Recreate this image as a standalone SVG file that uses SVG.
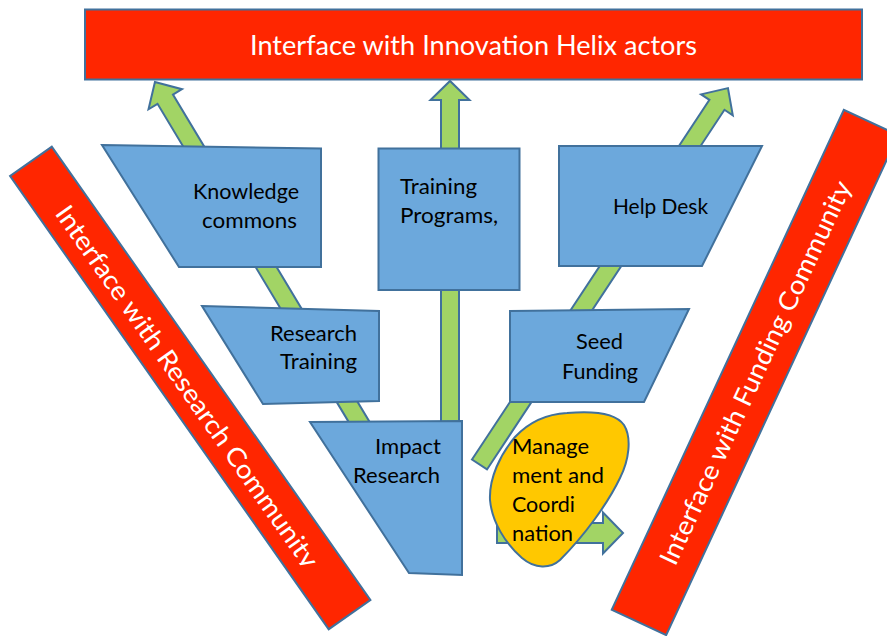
<svg xmlns="http://www.w3.org/2000/svg" width="887" height="636" viewBox="0 0 887 636">
<style>
.banner{fill:#FF2600;stroke:#41719C;stroke-width:2}
.box{fill:#6CA8DC;stroke:#41719C;stroke-width:2}
.arrow{fill:#A2D465;stroke:#41719C;stroke-width:2;stroke-linejoin:miter}
.blob{fill:#FFC800;stroke:#41719C;stroke-width:2}
.bt{font-family:Lato,"Open Sans","Liberation Sans",sans-serif;font-size:26px;fill:#FFFFFF}
.lb{font-family:Lato,"Open Sans","Liberation Sans",sans-serif;font-size:21px;fill:#000000}
</style>
<defs>
<clipPath id="clipLeft" clipPathUnits="userSpaceOnUse"><rect x="-300" y="-40" width="600" height="52"/></clipPath>
</defs>
<g id="connectors">
<polygon class="arrow" transform="translate(364,430) rotate(-121.0)" points="0,-9 385.9,-9 385.9,-19.5 405.9,0 385.9,19.5 385.9,9 0,9"/>
<polygon class="arrow" transform="translate(450,430) rotate(-90)" points="0,-9 330,-9 330,-19.5 349,0 330,19.5 330,9 0,9"/>
<polygon class="arrow" transform="translate(479.5,464.5) rotate(-56.57)" points="0,-9 431,-9 431,-19 451,0 431,19 431,9 0,9"/>
<polygon class="arrow" transform="translate(497,533)" points="0,-10 106,-10 106,-20.5 126,0 106,20.5 106,10 0,10"/>
</g>
<g id="innovation-helix">
<rect class="banner" x="85" y="9.5" width="777" height="70"/>
<text class="bt" x="473.5" y="55" text-anchor="middle" textLength="447" lengthAdjust="spacingAndGlyphs">Interface with Innovation Helix actors</text>
</g>
<g id="research-community" transform="translate(190.25,388) rotate(54.89)">
<rect class="banner" x="-277" y="-25.5" width="554" height="51"/>
<text class="bt" x="-3" y="11" text-anchor="middle" textLength="436" lengthAdjust="spacingAndGlyphs" clip-path="url(#clipLeft)">Interface with Research Community</text>
</g>
<g id="funding-community" transform="translate(755,372.5) rotate(-65.1)">
<rect class="banner" x="-275.6" y="-30" width="551.2" height="60"/>
<text class="bt" x="0" y="9.5" text-anchor="middle" textLength="420" lengthAdjust="spacingAndGlyphs">Interface with Funding Community</text>
</g>
<g id="knowledge-commons">
<polygon class="box" points="102,145 321,148.5 321,267 179,267"/>
<text class="lb" x="246" y="199" text-anchor="middle" textLength="106" lengthAdjust="spacingAndGlyphs">Knowledge</text>
<text class="lb" x="249.5" y="228" text-anchor="middle" textLength="95" lengthAdjust="spacingAndGlyphs">commons</text>
</g>
<g id="training-programs">
<rect class="box" x="378.5" y="148.5" width="141" height="141.5"/>
<text class="lb" x="400" y="194" textLength="77" lengthAdjust="spacingAndGlyphs">Training</text>
<text class="lb" x="400" y="222.5" textLength="98" lengthAdjust="spacingAndGlyphs">Programs,</text>
</g>
<g id="help-desk">
<polygon class="box" points="559,146 762,146 702,266 559,266"/>
<text class="lb" x="660.5" y="214" text-anchor="middle" textLength="95" lengthAdjust="spacingAndGlyphs">Help Desk</text>
</g>
<g id="research-training">
<polygon class="box" points="202,306 379,311 379,401 263,404"/>
<text class="lb" x="313.5" y="340.5" text-anchor="middle" textLength="87" lengthAdjust="spacingAndGlyphs">Research</text>
<text class="lb" x="318.5" y="369" text-anchor="middle" textLength="77" lengthAdjust="spacingAndGlyphs">Training</text>
</g>
<g id="seed-funding">
<polygon class="box" points="510,311 689,309 644,402 510,402"/>
<text class="lb" x="599.5" y="348.5" text-anchor="middle" textLength="47" lengthAdjust="spacingAndGlyphs">Seed</text>
<text class="lb" x="600" y="379" text-anchor="middle" textLength="76" lengthAdjust="spacingAndGlyphs">Funding</text>
</g>
<g id="impact-research">
<polygon class="box" points="310,422 462,421 462,575 409,573"/>
<text class="lb" x="408" y="454" text-anchor="middle" textLength="66" lengthAdjust="spacingAndGlyphs">Impact</text>
<text class="lb" x="396.5" y="482.5" text-anchor="middle" textLength="87" lengthAdjust="spacingAndGlyphs">Research</text>
</g>
<g id="management-coordination">
<path class="blob" d="M567,413 C590,411 615,412 624,425 C632,438 629,460 620,478 C608,503 585,535 560,560 C550,569 535,569 522,558 C505,543 492,522 490,500 C489,478 500,455 515,437 C530,421 548,414 567,413 Z"/>
<text class="lb" x="512" y="454" textLength="77" lengthAdjust="spacingAndGlyphs">Manage</text>
<text class="lb" x="512" y="482.5" textLength="92" lengthAdjust="spacingAndGlyphs">ment and</text>
<text class="lb" x="512" y="512" textLength="63" lengthAdjust="spacingAndGlyphs">Coordi</text>
<text class="lb" x="512" y="540.5" textLength="61" lengthAdjust="spacingAndGlyphs">nation</text>
</g>
</svg>
